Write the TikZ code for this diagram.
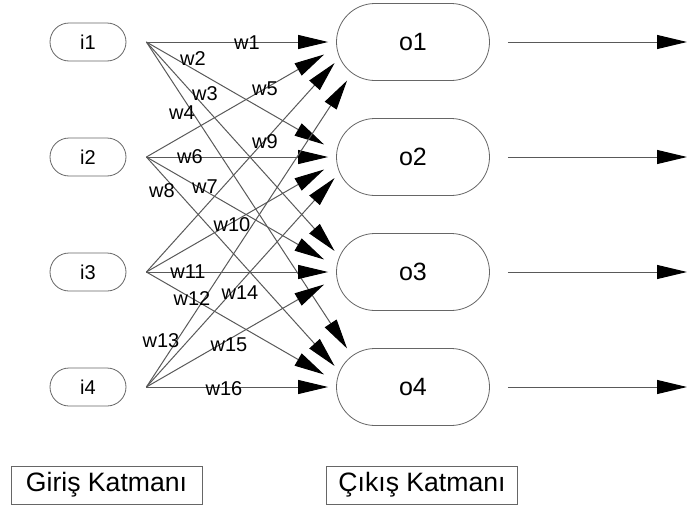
\documentclass[tikz,border=0pt]{standalone}
\usepackage{fontspec}
\setmainfont{Liberation Sans}
\usetikzlibrary{shapes.misc,arrows.meta,calc}

\tikzset{
  inbox/.style={draw=black!60, rounded rectangle, minimum width=38pt, minimum height=19pt, inner sep=0pt, font=\fontsize{10}{12}\selectfont},
  outbox/.style={draw=black!60, rounded rectangle, minimum width=76.5pt, minimum height=38.5pt, inner sep=0pt, font=\fontsize{12.5}{14}\selectfont},
  layerbox/.style={draw=black!60, minimum width=95.5pt, minimum height=19pt, inner sep=0pt, font=\fontsize{13.3}{15}\selectfont},
  wlabel/.style={inner sep=0pt, font=\fontsize{10}{12}\selectfont},
  conn/.style={draw=black!65, line width=0.5pt, -{Triangle[length=15pt,width=7pt,color=black]}},
}

\begin{document}
\begin{tikzpicture}[x=0.5pt,y=-0.5pt]
    \useasboundingbox (0,0) rectangle (687,509);

    % input and output layers
    \foreach \k/\y in {1/42,2/157,3/272,4/387}{
        \node[inbox] (i\k) at (88,\y) {i\k};
        \node[outbox] (o\k) at (413,\y) {o\k};
        \coordinate (f\k) at ($(i\k.east)+(20,0)$);
        \coordinate (s\k) at ($(o\k.east)+(18,0)$);
        \coordinate (e\k) at (687,\y);
    }

    % where the weights arrive
    \foreach \k in {1,...,4}{
        \foreach \j in {1,...,4}{
            \pgfmathtruncatemacro\d{abs(\j-\k)}
            \pgfmathsetmacro\dx{{-8,-12,-1.5,11}[\d]}
            \pgfmathsetmacro\dy{{0,12.5,21,38.5}[\d]*sign(\j-\k)}
            \coordinate (t\k\j) at ($(o\k.west)+(\dx,\dy)$);
        }
    }

    \foreach \j in {1,...,4}{
        \foreach \k in {1,...,4}{
            \draw[conn] (f\j) -- (t\k\j);
        }
    }

    \foreach \k in {1,...,4}{
        \draw[conn] (s\k) -- (e\k);
    }

    % weights
    \foreach \n/\x/\y in {1/247/43, 2/193/59, 3/205/94, 4/182/113,
                          5/265/89, 6/190/157, 7/205/187, 8/162/191,
                          9/265/142, 10/232/225, 11/188/272, 12/192/299,
                          13/161/341, 14/240/293, 15/229/345, 16/224/389}{
        \node[wlabel] (w\n) at (\x,\y) {w\n};
    }

    \node[layerbox] (giris) at (106.5,485) {Giriş Katmanı};
    \node[layerbox] (cikis) at (422,485) {Çıkış Katmanı};
\end{tikzpicture}
\end{document}
